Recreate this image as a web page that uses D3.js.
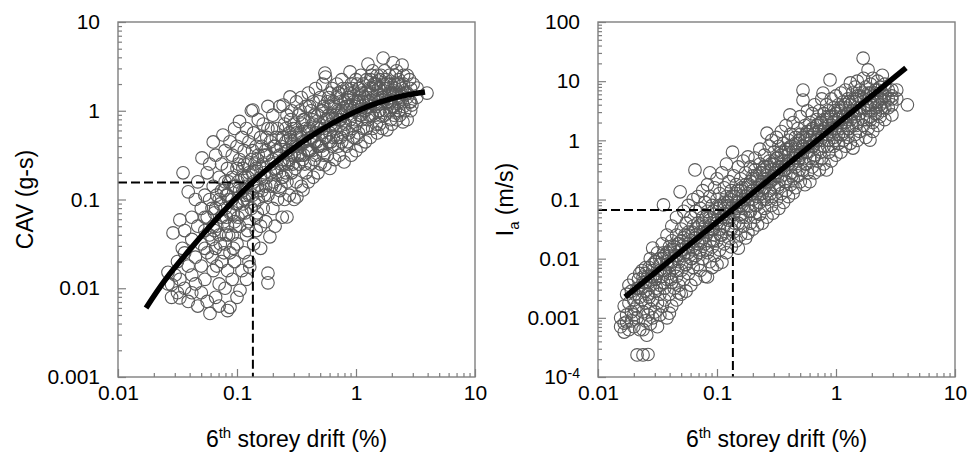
<!DOCTYPE html>
<html><head><meta charset="utf-8">
<script src="https://cdn.jsdelivr.net/npm/d3@7"></script>
<style>
body{margin:0;background:#fff;}
svg text{font-family:"Liberation Sans",Arial,Helvetica,sans-serif;}
</style></head><body>
<svg id="chart" width="967" height="455"></svg>
<script>
// ---------------- data ----------------
const xTickLabels = ["0.01","0.1","1","10"];
const cavTickLabels = ["0.001","0.01","0.1","1","10"];
const iaTickLabels = ["10^-4","0.001","0.01","0.1","1","10","100"];

// CAV vs 6th storey drift (%)
const cavPoints = [
[0.0263,0.0112],[0.0263,0.0151],[0.0282,0.0079],[0.0282,0.011],[0.0302,0.0141],[0.029,0.042],
[0.0316,0.0089],[0.0316,0.02],[0.0331,0.0078],[0.0331,0.0589],[0.0331,0.0126],[0.0347,0.0282],[0.0352,0.2],
[0.0363,0.025],[0.0363,0.01],[0.0363,0.0447],[0.0389,0.122],[0.0389,0.0178],[0.0389,0.0071],
[0.0417,0.0355],[0.0417,0.0631],[0.0417,0.0141],[0.0417,0.0089],[0.0447,0.0224],[0.0447,0.1],[0.0447,0.0112],
[0.0468,0.0501],[0.0468,0.158],[0.0468,0.0063],[0.0501,0.0316],[0.0501,0.0794],[0.0501,0.0178],[0.0501,0.0089],
[0.0508,0.294],[0.0537,0.0447],[0.0537,0.112],[0.0537,0.0126],[0.0562,0.0251],[0.0562,0.0631],[0.0562,0.2],[0.0562,0.0071],
[0.0593,0.0052],[0.0589,0.0398],[0.0589,0.1],[0.0589,0.251],[0.0631,0.445],[0.0631,0.0158],[0.0631,0.0501],[0.0631,0.141],
[0.0661,0.0079],[0.0661,0.0282],[0.0661,0.0794],[0.0661,0.316],[0.0708,0.0112],[0.0708,0.0398],[0.0708,0.1],[0.0708,0.178],[0.0708,0.0063],
[0.0741,0.02],[0.0741,0.0631],[0.0741,0.251],[0.0741,0.126],[0.0762,0.533],
[0.0794,0.01],[0.0794,0.0316],[0.0794,0.0794],[0.0794,0.158],[0.0794,0.355],
[0.0832,0.0158],[0.0832,0.0501],[0.0832,0.112],[0.0832,0.224],[0.0832,0.0056],
[0.0873,0.0061],[0.0873,0.0251],[0.0873,0.0708],[0.0873,0.447],
[0.0912,0.0126],[0.0912,0.0398],[0.0912,0.1],[0.0912,0.178],[0.0912,0.316],
[0.0955,0.02],[0.0955,0.0562],[0.0955,0.141],[0.0955,0.631],
[0.1,0.0079],[0.1,0.0316],[0.1,0.0891],[0.1,0.224],[0.1,0.398],
[0.106,0.0095],[0.105,0.0501],[0.105,0.126],[0.105,0.282],[0.105,0.759],
[0.11,0.0158],[0.11,0.0708],[0.11,0.178],[0.11,0.501],
[0.115,0.0251],[0.115,0.1],[0.115,0.251],[0.115,0.355],
[0.12,0.0126],[0.12,0.0398],[0.12,0.141],[0.12,0.631],
[0.126,0.0562],[0.126,0.112],[0.126,0.2],[0.126,0.447],[0.126,0.02],[0.128,0.0174],
[0.132,0.0794],[0.132,0.282],[0.132,1.0],[0.138,0.0316],[0.138,0.158],[0.138,0.562],[0.136,1.02],
[0.145,0.0631],[0.145,0.224],[0.145,0.398],[0.145,0.0447],[0.151,0.1],[0.151,0.126],[0.151,0.316],[0.151,0.794],
[0.158,0.0501],[0.158,0.178],[0.158,0.501],[0.158,0.0282],[0.166,0.0794],[0.166,0.251],[0.166,0.708],
[0.174,0.141],[0.174,0.355],[0.174,0.0562],[0.182,0.0148],[0.182,0.0115],[0.182,0.112],[0.182,0.631],[0.182,1.12],
[0.189,0.038],[0.191,0.2],[0.191,0.447],[0.2,0.0794],[0.2,0.282],[0.2,0.891],
[0.209,0.141],[0.209,0.398],[0.209,0.0501],[0.219,0.224],[0.219,0.631],[0.219,0.1],
[0.229,0.126],[0.229,0.316],[0.229,1.12],[0.24,0.0631],[0.24,0.178],[0.24,0.501],[0.244,1.16],
[0.251,0.1],[0.251,0.251],[0.251,0.708],[0.263,0.0635],[0.263,0.158],[0.263,0.355],[0.263,0.891],
[0.275,0.112],[0.275,0.282],[0.279,1.43],[0.275,0.562],[0.288,0.2],[0.288,0.447],[0.288,1.0],
[0.302,0.1],[0.302,0.316],[0.302,0.708],[0.319,0.107],[0.316,0.158],[0.316,0.562],[0.316,1.26],
[0.331,0.251],[0.331,0.398],[0.331,0.891],[0.347,0.141],[0.347,0.501],[0.347,1.41],
[0.359,0.128],[0.363,0.316],[0.363,0.794],[0.38,0.2],[0.38,0.631],[0.38,1.12],
[0.398,0.158],[0.398,0.355],[0.398,1.58],[0.417,0.251],[0.417,0.501],[0.417,1.0],
[0.437,0.178],[0.437,0.708],[0.437,1.26],[0.457,0.316],[0.457,0.562],[0.457,1.78],
[0.479,0.2],[0.479,0.398],[0.479,0.891],[0.501,0.251],[0.501,0.631],[0.501,1.41],
[0.525,0.355],[0.525,1.0],[0.525,2.0],[0.548,2.66],[0.555,2.4],[0.549,0.245],[0.549,0.501],
[0.575,0.794],[0.575,1.26],[0.575,0.316],[0.603,0.224],[0.603,0.562],[0.603,1.58],
[0.631,0.398],[0.631,0.891],[0.631,1.78],[0.661,0.282],[0.661,0.708],[0.661,1.12],
[0.692,0.501],[0.692,1.41],[0.692,2.0],[0.724,0.316],[0.724,0.794],[0.724,1.58],
[0.759,0.447],[0.759,1.0],[0.759,2.24],[0.794,0.265],[0.794,0.631],[0.794,1.26],
[0.832,0.398],[0.832,1.12],[0.832,1.78],[0.871,0.562],[0.871,1.41],[0.891,2.74],
[0.912,0.316],[0.912,0.891],[0.912,2.0],[0.955,0.501],[0.955,1.26],[0.955,1.58],
[1.0,0.355],[1.0,0.708],[1.0,1.0],[1.0,2.24],[1.05,0.562],[1.05,1.41],[1.05,1.78],
[1.1,0.398],[1.1,0.891],[1.1,2.51],[1.15,0.631],[1.15,1.26],[1.15,2.0],
[1.2,0.447],[1.2,1.0],[1.2,1.58],[1.26,0.794],[1.26,1.41],[1.26,3.36],
[1.32,0.501],[1.32,1.12],[1.32,2.24],[1.38,0.631],[1.38,1.78],[1.38,2.82],
[1.45,0.891],[1.45,1.26],[1.45,2.0],[1.51,0.562],[1.51,1.58],[1.51,2.51],
[1.58,0.708],[1.58,1.0],[1.58,2.24],[1.69,3.93],[1.66,1.41],[1.66,0.631],
[1.74,0.891],[1.74,1.78],[1.74,2.82],[1.82,0.61],[1.82,1.26],[1.82,2.0],
[1.91,1.0],[1.91,1.58],[1.91,2.51],[2.0,0.708],[2.0,1.41],[2.05,3.47],
[2.09,1.12],[2.09,2.0],[2.09,0.891],[2.19,0.794],[2.19,1.58],[2.19,2.82],
[2.29,1.26],[2.29,2.24],[2.29,1.0],[2.44,3.27],[2.4,1.58],[2.48,0.75],
[2.51,1.12],[2.51,2.0],[2.51,2.51],[2.69,0.794],[2.69,1.41],[2.69,2.51],
[2.88,1.26],[2.88,1.78],[2.88,1.0],[2.95,1.16],[3.02,2.0],[3.26,1.8],[3.24,1.41],[3.95,1.58],
// dense core
[0.0537,0.0282],[0.0537,0.0631],[0.0617,0.0355],[0.0617,0.0794],[0.0617,0.0224],
[0.0676,0.0501],[0.0676,0.112],[0.0676,0.0178],[0.0724,0.0316],[0.0724,0.0891],
[0.0776,0.0562],[0.0776,0.126],[0.0776,0.0251],[0.0851,0.0398],[0.0851,0.1],[0.0851,0.158],
[0.0933,0.0708],[0.0933,0.141],[0.0933,0.0282],[0.102,0.0631],[0.102,0.158],[0.102,0.251],
[0.112,0.0891],[0.112,0.126],[0.112,0.224],[0.123,0.1],[0.123,0.251],[0.123,0.178],[0.123,0.0447],
[0.135,0.112],[0.135,0.2],[0.135,0.355],[0.148,0.141],[0.148,0.282],[0.148,0.0708],
[0.162,0.126],[0.162,0.224],[0.162,0.398],[0.178,0.178],[0.178,0.316],[0.178,0.501],
[0.195,0.141],[0.195,0.251],[0.195,0.631],[0.214,0.2],[0.214,0.355],[0.214,0.501],
[0.234,0.251],[0.234,0.398],[0.234,0.141],[0.257,0.2],[0.257,0.447],[0.257,0.631],
[0.282,0.316],[0.282,0.501],[0.282,0.794],[0.309,0.224],[0.309,0.398],[0.309,0.631],
[0.339,0.316],[0.339,0.562],[0.339,1.0],[0.372,0.251],[0.372,0.447],[0.372,0.794],
[0.407,0.355],[0.407,0.631],[0.407,1.12],[0.447,0.282],[0.447,0.447],[0.447,0.891],
[0.49,0.398],[0.49,0.708],[0.49,1.26],[0.537,0.316],[0.537,0.631],[0.537,1.12],
[0.589,0.447],[0.589,0.891],[0.589,1.41],[0.646,0.501],[0.646,0.794],[0.646,1.26],
[0.708,0.398],[0.708,1.0],[0.708,1.58],[0.776,0.562],[0.776,0.891],[0.776,1.78],
[0.851,0.447],[0.851,1.12],[0.851,1.41],[0.933,0.631],[0.933,1.0],[0.933,1.78],
[1.02,0.501],[1.02,1.26],[1.02,2.0],[1.12,0.794],[1.12,1.12],[1.12,1.58],
[1.23,0.631],[1.23,1.26],[1.23,2.24],[1.35,0.891],[1.35,1.58],[1.35,2.51],
[1.48,0.708],[1.48,1.12],[1.48,2.0],[1.62,0.891],[1.62,1.78],[1.62,2.51],
[1.78,1.0],[1.78,1.41],[1.78,2.24],[1.95,0.794],[1.95,1.26],[1.95,2.0],
[2.14,1.0],[2.14,1.78],[2.14,2.51],[2.34,0.891],[2.34,1.41],[2.34,2.0],
[2.57,1.0],[2.57,1.58],[2.82,1.26],[2.82,2.24],
[0.0646,0.0447],[0.0646,0.0708],[0.0813,0.0631],[0.0813,0.112],[0.0813,0.0398],
[0.0977,0.0891],[0.0977,0.141],[0.0977,0.0501],[0.117,0.112],[0.117,0.178],[0.117,0.0708],
[0.141,0.141],[0.141,0.251],[0.141,0.0891],[0.17,0.2],[0.17,0.316],[0.17,0.112],
[0.204,0.224],[0.204,0.398],[0.204,0.158],[0.245,0.282],[0.245,0.501],[0.245,0.178],
[0.269,0.355],[0.269,0.251],[0.295,0.398],[0.295,0.631],[0.295,0.251],[0.324,0.501],[0.324,0.316],
[0.355,0.447],[0.355,0.708],[0.355,0.282],[0.389,0.562],[0.389,0.355],
[0.427,0.501],[0.427,0.794],[0.427,0.355],[0.468,0.631],[0.468,0.447],
[0.513,0.562],[0.513,1.0],[0.513,0.398],[0.562,0.794],[0.562,0.501],
[0.617,0.708],[0.617,1.12],[0.617,0.447],[0.676,0.891],[0.676,0.631],
[0.741,0.794],[0.741,1.26],[0.741,0.501],[0.813,1.0],[0.813,0.708],
[0.891,1.12],[0.891,0.794],[0.891,1.58],[0.977,1.12],[0.977,0.794],
[1.07,1.26],[1.07,1.78],[1.07,0.891],[1.17,1.41],[1.17,1.0],
[1.29,1.26],[1.29,1.78],[1.29,0.891],[1.41,1.41],[1.41,2.0],
[1.55,1.26],[1.55,1.78],[1.55,1.0],[1.7,1.41],[1.7,2.0],
[1.86,1.26],[1.86,1.78],[2.04,1.58],[2.04,1.12],[2.24,1.41],[2.24,2.0],
[2.45,1.26],[2.45,1.78],[2.69,1.58]
];

// Ia vs 6th storey drift (%)
const iaPoints = [
[0.0155,0.001],[0.0155,0.00071],[0.0166,0.00081],[0.0166,0.000575],[0.0166,0.00158],
[0.0174,0.00112],[0.0174,0.00085],[0.0174,0.00251],[0.0182,0.00063],[0.0182,0.00178],[0.0182,0.00355],
[0.0191,0.00126],[0.0191,0.00282],[0.0191,0.00089],[0.02,0.00447],[0.02,0.002],[0.02,0.00071],[0.02,0.00112],
[0.0213,0.000236],[0.0213,0.00316],[0.0213,0.00158],[0.0213,0.001],[0.0224,0.00562],[0.0224,0.00224],[0.0224,0.00063],
[0.0239,0.000236],[0.0239,0.00398],[0.0239,0.00126],[0.0239,0.00063],[0.0239,0.0049],
[0.0251,0.00708],[0.0251,0.00282],[0.0251,0.00178],[0.0251,0.00089],[0.0257,0.00051],
[0.0263,0.00024],[0.0263,0.00501],[0.0263,0.00112],[0.0263,0.00251],
[0.0275,0.01],[0.0275,0.00355],[0.0275,0.00141],[0.0275,0.00079],
[0.0288,0.0151],[0.0288,0.00631],[0.0288,0.002],[0.0288,0.001],
[0.0302,0.00447],[0.0302,0.00282],[0.0302,0.0089],[0.0302,0.00126],
[0.0316,0.0126],[0.0316,0.00562],[0.0316,0.00178],[0.0316,0.00071],
[0.0331,0.00794],[0.0331,0.00355],[0.0331,0.00251],[0.0331,0.00112],
[0.0347,0.0178],[0.0347,0.01],[0.0347,0.00501],[0.0347,0.00158],[0.0355,0.081],
[0.0363,0.0112],[0.0363,0.00631],[0.0363,0.00316],[0.0363,0.002],
[0.038,0.0251],[0.038,0.00794],[0.038,0.00447],[0.038,0.001],
[0.0398,0.0158],[0.0398,0.0112],[0.0398,0.00562],[0.0398,0.00251],[0.0398,0.0012],
[0.0417,0.0355],[0.0417,0.02],[0.0417,0.0089],[0.0417,0.00398],[0.0417,0.00158],
[0.0437,0.0141],[0.0437,0.00708],[0.0437,0.00316],
[0.0457,0.0501],[0.0457,0.0251],[0.0457,0.0112],[0.0457,0.00501],[0.0457,0.002],
[0.0479,0.0178],[0.0479,0.0089],[0.0479,0.00355],[0.0479,0.00263],[0.049,0.135],
[0.0501,0.0316],[0.0501,0.0141],[0.0501,0.00631],[0.0501,0.00251],
[0.0525,0.0631],[0.0525,0.0224],[0.0525,0.0112],[0.0525,0.00447],
[0.055,0.0398],[0.055,0.0158],[0.055,0.00794],[0.055,0.00282],
[0.0575,0.0794],[0.0575,0.0282],[0.0575,0.0126],[0.0575,0.00562],
[0.0603,0.0501],[0.0603,0.02],[0.0603,0.01],[0.0603,0.00355],
[0.0631,0.1],[0.0631,0.0355],[0.0631,0.0141],[0.0631,0.00708],[0.0653,0.316],
[0.0661,0.0631],[0.0661,0.0251],[0.0661,0.0112],[0.0661,0.00447],
[0.0692,0.112],[0.0692,0.0398],[0.0692,0.0178],[0.0692,0.00794],
[0.0724,0.0708],[0.0724,0.0282],[0.0724,0.0141],[0.0724,0.00631],
[0.0759,0.141],[0.0759,0.0501],[0.0759,0.0224],[0.0759,0.01],
[0.0794,0.0891],[0.0794,0.0355],[0.0794,0.0178],[0.0794,0.00501],
[0.0832,0.178],[0.0832,0.0631],[0.0832,0.0282],[0.0832,0.0126],[0.0832,0.0049],
[0.0871,0.282],[0.0871,0.112],[0.0871,0.0447],[0.0871,0.02],[0.0871,0.0089],
[0.0912,0.0794],[0.0912,0.0316],[0.0912,0.0158],[0.0912,0.00708],
[0.0955,0.158],[0.0955,0.0562],[0.0955,0.0251],[0.0955,0.0112],
[0.1,0.224],[0.1,0.1],[0.1,0.0398],[0.1,0.02],[0.1,0.00794],
[0.105,0.126],[0.105,0.0708],[0.105,0.0316],[0.105,0.0141],
[0.11,0.282],[0.11,0.0501],[0.11,0.0251],[0.11,0.0087],
[0.115,0.158],[0.115,0.0891],[0.115,0.0355],[0.115,0.0178],
[0.12,0.398],[0.12,0.112],[0.12,0.0631],[0.12,0.0126],
[0.126,0.2],[0.126,0.0794],[0.126,0.0447],[0.126,0.0224],
[0.132,0.141],[0.132,0.1],[0.132,0.0316],[0.132,0.0158],[0.135,0.631],
[0.138,0.251],[0.138,0.0562],[0.138,0.0282],
[0.145,0.178],[0.145,0.126],[0.145,0.0708],[0.145,0.02],
[0.151,0.355],[0.151,0.0891],[0.151,0.0398],[0.151,0.0151],
[0.158,0.224],[0.158,0.141],[0.158,0.0562],[0.158,0.0251],
[0.166,0.447],[0.166,0.1],[0.166,0.0708],[0.166,0.0355],
[0.174,0.282],[0.174,0.178],[0.174,0.0501],[0.174,0.0224],
[0.182,0.525],[0.182,0.126],[0.182,0.0794],[0.182,0.0269],
[0.191,0.355],[0.191,0.2],[0.191,0.0631],[0.191,0.0398],
[0.2,0.251],[0.2,0.141],[0.2,0.1],[0.2,0.0316],
[0.209,0.501],[0.209,0.316],[0.209,0.0794],[0.209,0.0501],
[0.219,0.224],[0.219,0.158],[0.219,0.112],[0.219,0.0372],
[0.229,0.708],[0.229,0.398],[0.229,0.0891],[0.229,0.0562],
[0.24,0.282],[0.24,0.2],[0.24,0.126],[0.24,0.0398],
[0.251,0.562],[0.251,0.355],[0.251,0.158],[0.251,0.0708],
[0.263,1.32],[0.263,0.251],[0.263,0.1],[0.263,0.0501],
[0.275,0.794],[0.275,0.447],[0.275,0.2],[0.275,0.141],
[0.288,0.316],[0.288,0.112],[0.288,0.0794],[0.288,1.0],[0.295,0.0589],
[0.302,0.631],[0.302,0.398],[0.302,0.224],[0.302,0.158],
[0.316,1.12],[0.316,0.501],[0.316,0.282],[0.316,0.1],
[0.331,0.794],[0.331,0.355],[0.331,0.178],[0.331,0.0708],
[0.347,1.41],[0.347,0.631],[0.347,0.251],[0.347,0.126],
[0.363,0.891],[0.363,0.447],[0.363,0.316],[0.363,0.0891],
[0.38,1.78],[0.38,0.708],[0.38,0.2],[0.38,0.141],
[0.398,1.0],[0.398,0.562],[0.398,0.398],[0.398,0.112],[0.41,2.69],
[0.417,1.26],[0.417,0.794],[0.417,0.282],[0.417,0.178],
[0.437,2.0],[0.437,0.501],[0.437,0.224],[0.437,0.129],
[0.457,1.12],[0.457,0.631],[0.457,0.355],[0.457,0.158],
[0.479,1.58],[0.479,0.891],[0.479,0.447],[0.479,0.251],
[0.501,2.51],[0.501,1.26],[0.501,0.562],[0.501,0.2],
[0.528,7.08],[0.528,4.79],[0.525,0.794],[0.525,0.316],
[0.549,1.78],[0.549,1.0],[0.549,0.398],[0.549,0.178],
[0.575,3.16],[0.575,1.41],[0.575,0.631],[0.575,0.282],
[0.603,2.0],[0.603,1.12],[0.603,0.501],[0.603,0.2],
[0.631,2.82],[0.631,1.58],[0.631,0.794],[0.631,0.355],
[0.661,3.98],[0.661,1.26],[0.661,0.562],[0.661,0.282],
[0.692,2.24],[0.692,1.78],[0.692,1.0],[0.692,0.447],
[0.724,3.16],[0.724,1.41],[0.724,0.708],[0.724,0.316],
[0.759,5.01],[0.759,2.0],[0.759,1.12],[0.759,0.501],[0.778,6.31],
[0.794,2.82],[0.794,1.58],[0.794,0.794],[0.794,0.398],
[0.832,3.98],[0.832,2.24],[0.832,1.26],[0.832,0.316],
[0.871,1.78],[0.871,1.0],[0.871,0.631],[0.871,3.16],[0.891,10.5],
[0.912,5.01],[0.912,2.51],[0.912,1.41],[0.912,0.447],
[0.955,3.55],[0.955,2.0],[0.955,1.12],[0.955,0.794],
[1.0,5.62],[1.0,2.82],[1.0,1.58],[1.0,0.562],
[1.05,3.98],[1.05,2.24],[1.05,1.26],[1.05,0.891],
[1.1,6.31],[1.1,3.16],[1.1,1.78],[1.1,0.631],
[1.15,4.47],[1.15,2.51],[1.15,1.41],[1.15,1.0],
[1.2,7.08],[1.2,3.55],[1.2,2.0],[1.2,0.794],
[1.26,5.01],[1.26,2.82],[1.26,1.58],[1.26,1.12],
[1.32,9.33],[1.32,3.98],[1.32,2.24],[1.32,0.891],
[1.38,6.31],[1.38,3.16],[1.38,1.78],[1.39,0.741],
[1.45,7.94],[1.45,4.47],[1.45,2.51],[1.45,1.26],
[1.51,10.0],[1.51,5.62],[1.51,2.0],[1.51,1.0],
[1.58,7.08],[1.58,3.55],[1.58,2.82],[1.58,1.41],
[1.69,24.5],[1.7,11.2],[1.7,5.01],[1.7,1.78],
[1.78,7.94],[1.78,3.98],[1.78,2.24],[1.78,1.12],
[1.86,15.5],[1.86,6.31],[1.86,3.16],[1.86,1.58],
[1.93,1.01],[1.95,8.91],[1.95,4.47],[1.95,2.51],
[2.04,11.2],[2.04,5.62],[2.04,2.0],[2.04,1.41],
[2.14,7.08],[2.14,3.55],[2.14,2.82],[2.24,10.0],[2.24,5.01],[2.24,1.78],
[2.34,7.94],[2.34,3.98],[2.34,2.51],[2.45,12.6],[2.45,6.31],[2.45,3.16],
[2.57,8.91],[2.57,4.47],[2.57,2.24],[2.75,7.08],[2.75,3.55],
[2.95,2.69],[2.95,5.62],[2.95,3.98],[3.24,7.08],[3.24,5.01],[3.98,3.98],
// dense core
[0.0204,0.00251],[0.0204,0.00141],[0.0234,0.00316],[0.0234,0.002],[0.0234,0.00631],
[0.0269,0.00398],[0.0269,0.00708],[0.0269,0.00224],[0.0309,0.00501],[0.0309,0.0089],[0.0309,0.00316],
[0.0355,0.00631],[0.0355,0.0126],[0.0355,0.00398],[0.0407,0.00794],[0.0407,0.0141],[0.0407,0.00447],
[0.0468,0.01],[0.0468,0.0178],[0.0468,0.00631],[0.0537,0.0126],[0.0537,0.0251],[0.0537,0.00794],
[0.0617,0.0158],[0.0617,0.0282],[0.0617,0.01],[0.0708,0.02],[0.0708,0.0355],[0.0708,0.0126],
[0.0813,0.0251],[0.0813,0.0501],[0.0813,0.0141],[0.0933,0.0316],[0.0933,0.0631],[0.0933,0.02],
[0.107,0.0398],[0.107,0.0794],[0.107,0.0251],[0.123,0.0501],[0.123,0.0891],[0.123,0.0316],
[0.141,0.0631],[0.141,0.112],[0.141,0.0398],[0.162,0.0794],[0.162,0.158],[0.162,0.0501],
[0.186,0.1],[0.186,0.178],[0.186,0.0631],[0.214,0.126],[0.214,0.251],[0.214,0.0794],
[0.245,0.158],[0.245,0.316],[0.245,0.1],[0.282,0.2],[0.282,0.398],[0.282,0.126],
[0.324,0.251],[0.324,0.501],[0.324,0.158],[0.372,0.316],[0.372,0.631],[0.372,0.2],
[0.427,0.398],[0.427,0.794],[0.427,0.251],[0.49,0.501],[0.49,1.0],[0.49,0.316],
[0.562,0.631],[0.562,1.26],[0.562,0.398],[0.646,0.794],[0.646,1.58],[0.646,0.501],
[0.741,1.0],[0.741,2.0],[0.741,0.631],[0.851,1.26],[0.851,2.51],[0.851,0.794],
[0.977,1.58],[0.977,3.16],[0.977,1.0],[1.12,2.0],[1.12,3.55],[1.12,1.26],
[1.29,2.51],[1.29,4.47],[1.29,1.58],[1.48,3.16],[1.48,5.01],[1.48,1.78],
[1.7,3.55],[1.7,6.31],[1.7,2.24],[1.95,3.98],[1.95,6.31],[1.95,2.24],
[2.24,4.47],[2.24,7.08],[2.24,2.82],[2.57,5.62],[2.57,3.55],[2.95,5.01],[2.95,7.08],
[0.0219,0.00316],[0.0219,0.00447],[0.0251,0.00398],[0.0251,0.00562],[0.0288,0.00501],[0.0288,0.00794],
[0.0331,0.00631],[0.0331,0.01],[0.038,0.0089],[0.038,0.0126],[0.0437,0.0112],[0.0437,0.0158],
[0.0501,0.0141],[0.0501,0.02],[0.0575,0.0178],[0.0575,0.0251],[0.0661,0.0224],[0.0661,0.0316],
[0.0759,0.0282],[0.0759,0.0398],[0.0871,0.0355],[0.0871,0.0501],[0.1,0.0447],[0.1,0.0708],
[0.115,0.0562],[0.115,0.0794],[0.132,0.0708],[0.132,0.112],[0.151,0.0891],[0.151,0.141],
[0.174,0.112],[0.174,0.158],[0.2,0.141],[0.2,0.224],[0.229,0.178],[0.229,0.282],
[0.263,0.224],[0.263,0.355],[0.302,0.282],[0.302,0.447],[0.347,0.355],[0.347,0.562],
[0.398,0.447],[0.398,0.708],[0.457,0.562],[0.457,0.891],[0.525,0.708],[0.525,1.12],
[0.603,0.891],[0.603,1.41],[0.692,1.12],[0.692,1.78],[0.794,1.41],[0.794,2.24],
[0.912,1.78],[0.912,2.51],[1.05,2.24],[1.05,3.16],[1.2,2.51],[1.2,3.98],
[1.38,3.16],[1.38,4.47],[1.58,3.55],[1.58,5.62],[1.82,3.98],[1.82,5.62],
[2.09,4.47],[2.09,6.31],[2.4,5.01],[2.4,3.55],[2.75,5.01]
];

// fitted curves
const cavFitDrift = [0.0172, 0.0251, 0.0398, 0.0631, 0.1, 0.158, 0.251, 0.398, 0.631, 1.0, 1.585, 2.51, 3.8];
const cavFitValue = [0.006, 0.0126, 0.0269, 0.055, 0.106, 0.19, 0.317, 0.495, 0.722, 0.982, 1.25, 1.48, 1.63];
const iaFitDrift = [0.0169, 3.87];
const iaFitValue = [0.00225, 16.7];

// dashed threshold guides [drift, value]
const cavThreshold = [0.136, 0.155];
const iaThreshold = [0.136, 0.0665];

// ---------------- drawing ----------------
const svg = d3.select("#chart");
const W = 357, H = 355, TOP = 22;
const FONT = "21px";
const GRAY = "#7f7f7f";

function isDecade(v){ const l = Math.log10(v); return Math.abs(l - Math.round(l)) < 1e-9; }

function drawPanel(o){
  const g = svg.append("g").attr("transform", `translate(${o.left},${TOP})`);
  const x = d3.scaleLog().domain([0.01, 10]).range([0, W]);
  const y = d3.scaleLog().domain(o.yDomain).range([H, 0]);

  // scatter
  g.append("g").selectAll("circle").data(o.points).join("circle")
    .attr("cx", d => x(d[0])).attr("cy", d => y(d[1])).attr("r", 6.3)
    .attr("fill", "none").attr("stroke", "#595959").attr("stroke-width", 1.1);

  // dashed guides
  const tx = x(o.threshold[0]), ty = y(o.threshold[1]);
  g.append("path")
    .attr("d", `M${x(0.01)},${ty}H${tx}V${H}`)
    .attr("fill", "none").attr("stroke", "#000").attr("stroke-width", 2)
    .attr("stroke-dasharray", "9,4");

  // fit line
  const fit = o.fitX.map((v, i) => [v, o.fitY[i]]);
  g.append("path").datum(fit)
    .attr("d", d3.line().x(d => x(d[0])).y(d => y(d[1])).curve(d3.curveCatmullRom))
    .attr("fill", "none").attr("stroke", "#000").attr("stroke-width", 5.5);

  // axes
  const xt = x.ticks(), yt = y.ticks();
  const xMajor = xt.filter(isDecade), xMinor = xt.filter(v => !isDecade(v));
  const yMajor = yt.filter(isDecade), yMinor = yt.filter(v => !isDecade(v));

  const style = sel => {
    sel.select(".domain").remove();
    sel.selectAll("line").attr("stroke", GRAY).attr("stroke-width", 1.2);
    sel.selectAll("text").attr("font-size", FONT).attr("fill", "#000")
       .attr("font-family", '"Liberation Sans",Arial,sans-serif');
  };

  g.append("g").attr("transform", `translate(0,${H})`)
    .call(d3.axisBottom(x).tickValues(xMinor).tickSizeInner(-4).tickSizeOuter(0).tickFormat(""))
    .call(style);
  g.append("g").attr("transform", `translate(0,${H})`)
    .call(d3.axisBottom(x).tickValues(xMajor).tickSizeInner(-8).tickSizeOuter(0).tickPadding(8)
      .tickFormat((d, i) => xTickLabels[i]))
    .call(style);
  g.append("g")
    .call(d3.axisLeft(y).tickValues(yMinor).tickSizeInner(-4).tickSizeOuter(0).tickFormat(""))
    .call(style);
  const ya = g.append("g")
    .call(d3.axisLeft(y).tickValues(yMajor).tickSizeInner(-8).tickSizeOuter(0).tickPadding(18)
      .tickFormat((d, i) => o.yLabels[i]))
    .call(style);
  ya.selectAll("text").each(function(){
    const t = d3.select(this), s = t.text();
    if (s.indexOf("^") >= 0) {
      const [b, e] = s.split("^");
      t.text(null);
      t.append("tspan").text(b);
      t.append("tspan").attr("font-size", "14px").attr("dy", "-0.45em").text(e);
    }
  });

  // frame
  g.append("rect").attr("x", 0).attr("y", 0).attr("width", W).attr("height", H)
    .attr("fill", "none").attr("stroke", GRAY).attr("stroke-width", 1.4);

  // x title
  const xt2 = svg.append("text").attr("x", o.left + W / 2).attr("y", 447)
    .attr("text-anchor", "middle").attr("font-size", "23px").attr("fill", "#000");
  xt2.append("tspan").text("6");
  xt2.append("tspan").attr("font-size", "15px").attr("dy", "-9").text("th");
  xt2.append("tspan").attr("dy", "9").text(" storey drift (%)");

  // y title
  const yt2 = svg.append("text")
    .attr("transform", `translate(${o.left - 85},${TOP + H / 2}) rotate(-90)`)
    .attr("text-anchor", "middle").attr("font-size", "23px").attr("fill", "#000");
  o.yTitle(yt2);
}

drawPanel({
  left: 118, yDomain: [0.001, 10], points: cavPoints, yLabels: cavTickLabels,
  fitX: cavFitDrift, fitY: cavFitValue, threshold: cavThreshold,
  yTitle: t => t.text("CAV (g-s)")
});
drawPanel({
  left: 598, yDomain: [0.0001, 100], points: iaPoints, yLabels: iaTickLabels,
  fitX: iaFitDrift, fitY: iaFitValue, threshold: iaThreshold,
  yTitle: t => {
    t.append("tspan").text("I");
    t.append("tspan").attr("font-size", "15px").attr("dy", "6").text("a");
    t.append("tspan").attr("dy", "-6").text(" (m/s)");
  }
});
</script>
</body></html>
